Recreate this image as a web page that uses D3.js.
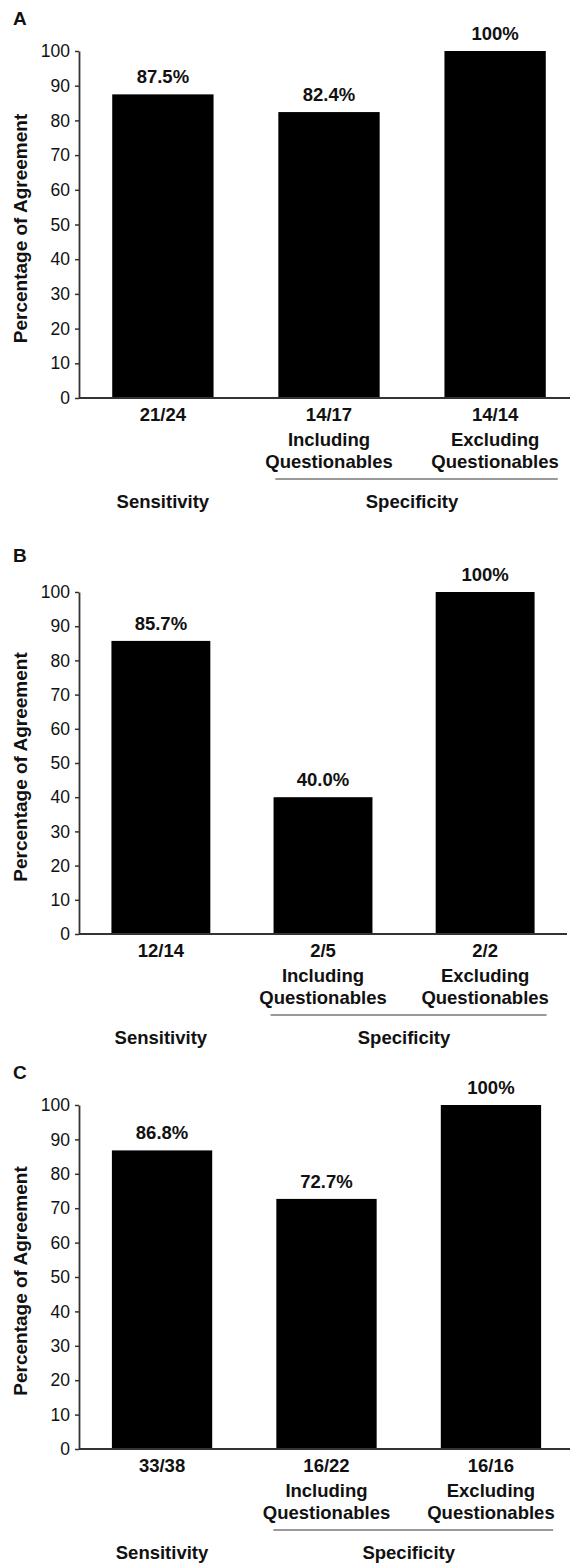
<!DOCTYPE html>
<html>
<head>
<meta charset="utf-8">
<script src="https://cdn.jsdelivr.net/npm/d3@7"></script>
<style>
  body { margin: 0; background: #fff; }
  svg text { font-family: "Liberation Sans", Arial, Helvetica, sans-serif; fill: #111; }
</style>
</head>
<body>
<div class="chart"></div>
<script>
// data
var panelLetters = ["A", "B", "C"];
var agreement = [
  [87.5, 82.4, 100],
  [85.7, 40.0, 100],
  [86.8, 72.7, 100]
];
var pctLabels = [
  ["87.5%", "82.4%", "100%"],
  ["85.7%", "40.0%", "100%"],
  ["86.8%", "72.7%", "100%"]
];
var fractions = [
  ["21/24", "14/17", "14/14"],
  ["12/14", "2/5", "2/2"],
  ["33/38", "16/22", "16/16"]
];
var subLabels = [[], ["Including", "Questionables"], ["Excluding", "Questionables"]];
var groupLabels = ["Sensitivity", "Specificity"];
var yTicks = [0, 10, 20, 30, 40, 50, 60, 70, 80, 90, 100];
var yTitle = "Percentage of Agreement";

// where each panel sits on the page
var layout = [
  { top: 51, bottom: 398, right: 579, letterY: 25 },
  { top: 592, bottom: 934, right: 567, letterY: 562 },
  { top: 1105, bottom: 1449, right: 574, letterY: 1079 }
];
var axisX = 79;
var labelSize = '18.5px';

var svg = d3.select('.chart')
  .append('svg')
    .attr('width', 570)
    .attr('height', 1563);

panelLetters.forEach(function(letter, p) {
  var lay = layout[p];
  var g = svg.append('g');

  var y = d3.scaleLinear()
      .domain([0, 100])
      .range([lay.bottom, lay.top]);

  var x = d3.scaleBand()
      .domain([0, 1, 2])
      .range([axisX, lay.right])
      .paddingInner(0.39)
      .paddingOuter(0.2);

  // panel letter
  g.append('text')
    .attr('x', 13)
    .attr('y', lay.letterY)
    .style('font-size', '19px')
    .style('font-weight', 'bold')
    .text(letter);

  // bars
  g.selectAll('.bar')
    .data(agreement[p])
    .enter()
    .append('rect')
      .attr('class', 'bar')
      .attr('x', (d, i) => x(i))
      .attr('width', x.bandwidth())
      .attr('y', d => y(d))
      .attr('height', d => y(0) - y(d))
      .style('fill', '#000');

  // value labels
  g.selectAll('.val')
    .data(agreement[p])
    .enter()
    .append('text')
      .attr('class', 'val')
      .attr('x', (d, i) => x(i) + x.bandwidth() / 2)
      .attr('y', d => y(d) - 11)
      .attr('text-anchor', 'middle')
      .style('font-size', labelSize)
      .style('font-weight', 'bold')
      .text((d, i) => pctLabels[p][i]);

  // y axis
  var yAxis = d3.axisLeft(y)
      .tickValues(yTicks)
      .tickSize(4)
      .tickSizeOuter(0)
      .tickPadding(5);

  var ax = g.append('g')
    .attr('transform', 'translate(' + axisX + ',0)')
    .call(yAxis);
  ax.select('.domain').attr('stroke', '#333').attr('stroke-width', 1.8);
  ax.selectAll('.tick line').attr('stroke', '#333').attr('stroke-width', 1.5);
  ax.selectAll('.tick text')
    .attr('fill', '#111')
    .style('font-size', '17.5px')
    .style('font-family', '"Liberation Sans", Arial, sans-serif');

  // baseline
  g.append('line')
    .attr('x1', axisX)
    .attr('x2', lay.right)
    .attr('y1', y(0))
    .attr('y2', y(0))
    .attr('stroke', '#333')
    .attr('stroke-width', 2);

  // fractions under bars
  g.selectAll('.frac')
    .data(fractions[p])
    .enter()
    .append('text')
      .attr('class', 'frac')
      .attr('x', (d, i) => x(i) + x.bandwidth() / 2)
      .attr('y', y(0) + 23)
      .attr('text-anchor', 'middle')
      .style('font-size', labelSize)
      .style('font-weight', 'bold')
      .text(d => d);

  // Including / Excluding Questionables
  subLabels.forEach(function(lines, i) {
    lines.forEach(function(t, k) {
      g.append('text')
        .attr('x', x(i) + x.bandwidth() / 2)
        .attr('y', y(0) + 48 + k * 22)
        .attr('text-anchor', 'middle')
        .style('font-size', labelSize)
        .style('font-weight', 'bold')
        .text(t);
    });
  });

  // grey bracket line under specificity bars
  g.append('line')
    .attr('x1', x(1) - 3)
    .attr('x2', x(2) + x.bandwidth() + 12)
    .attr('y1', y(0) + 81)
    .attr('y2', y(0) + 81)
    .attr('stroke', '#999')
    .attr('stroke-width', 2);

  // group labels
  var c0 = x(0) + x.bandwidth() / 2;
  var c12 = (x(1) + x(2) + x.bandwidth()) / 2;
  g.selectAll('.grp')
    .data(groupLabels)
    .enter()
    .append('text')
      .attr('class', 'grp')
      .attr('x', (d, i) => i == 0 ? c0 : c12)
      .attr('y', y(0) + 110)
      .attr('text-anchor', 'middle')
      .style('font-size', labelSize)
      .style('font-weight', 'bold')
      .text(d => d);

  // y axis title
  g.append('text')
    .attr('transform', 'translate(27,' + ((lay.top + lay.bottom) / 2 + 4) + ') rotate(-90)')
    .attr('text-anchor', 'middle')
    .style('font-size', '19px')
    .style('font-weight', 'bold')
    .text(yTitle);
});
</script>
</body>
</html>
